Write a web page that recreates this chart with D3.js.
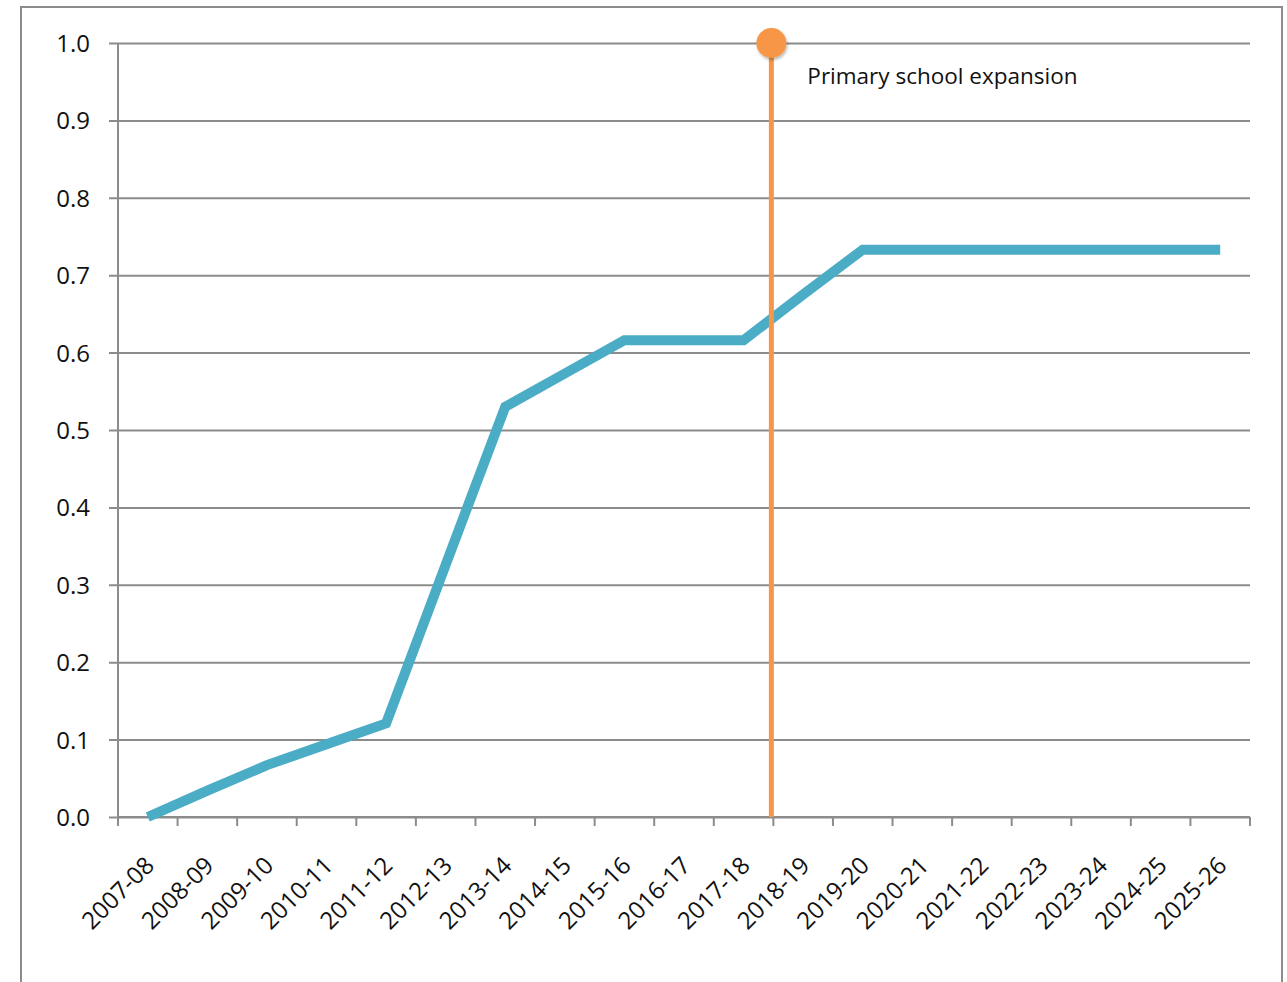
<!DOCTYPE html>
<html>
<head>
<meta charset="utf-8">
<script src="https://cdn.jsdelivr.net/npm/d3@7"></script>
<style>
  html, body { margin: 0; padding: 0; background: #fff; }
  svg { display: block; }
  text { font-family: "Open Sans", "Liberation Sans", sans-serif; fill: #111; }
</style>
</head>
<body>
<svg id="chart" width="1287" height="982"></svg>
<script>
const categories = ["2007-08","2008-09","2009-10","2010-11","2011-12","2012-13","2013-14","2014-15","2015-16","2016-17","2017-18","2018-19","2019-20","2020-21","2021-22","2022-23","2023-24","2024-25","2025-26"];
const values = [0.0, 0.034, 0.067, 0.094, 0.121, 0.326, 0.530, 0.573, 0.616, 0.616, 0.616, 0.675, 0.733, 0.733, 0.733, 0.733, 0.733, 0.733, 0.733];
const yTicks = [0, 0.1, 0.2, 0.3, 0.4, 0.5, 0.6, 0.7, 0.8, 0.9, 1.0];
const markerCategory = "2018-19";
const markerLabel = "Primary school expansion";

const svg = d3.select("#chart");
const plotLeft = 118, plotRight = 1250, plotTop = 43, plotBottom = 817;

// drop shadow for marker circle
const defs = svg.append("defs");
const f = defs.append("filter").attr("id", "shadow").attr("x", "-50%").attr("y", "-50%").attr("width", "200%").attr("height", "200%");
f.append("feDropShadow").attr("dx", 1).attr("dy", 2).attr("stdDeviation", 1.5).attr("flood-color", "#000").attr("flood-opacity", 0.3);

// outer frame
svg.append("path")
  .attr("d", `M21,990 V7 H1282 V990`)
  .attr("fill", "none").attr("stroke", "#8c8c8c").attr("stroke-width", 2);

const x = d3.scaleBand().domain(categories).range([plotLeft, plotRight]).padding(0);
const y = d3.scaleLinear().domain([0, 1]).range([plotBottom, plotTop]);

// gridlines + y ticks
const yAxis = d3.axisLeft(y).tickValues(yTicks).tickFormat(d3.format(".1f"))
  .tickSize(-(plotRight - plotLeft)).tickPadding(28);
const gy = svg.append("g").attr("transform", `translate(${plotLeft},0)`).call(yAxis);
gy.select(".domain").remove();
gy.selectAll(".tick line").attr("x1", -9).attr("stroke", "#8c8c8c").attr("stroke-width", 2);
gy.selectAll(".tick text").style("font-size", "24px").style("font-family", "'Open Sans', sans-serif")
  .attr("fill", "#111").attr("dy", "0.35em");

// y axis line
svg.append("line").attr("x1", plotLeft).attr("x2", plotLeft).attr("y1", plotTop).attr("y2", plotBottom + 9)
  .attr("stroke", "#8c8c8c").attr("stroke-width", 2);

// x axis
const gx = svg.append("g").attr("transform", `translate(0,${plotBottom})`);
gx.append("line").attr("x1", plotLeft).attr("x2", plotRight).attr("stroke", "#8c8c8c").attr("stroke-width", 2);
const bounds = categories.map(c => x(c)).concat([plotRight]);
gx.selectAll("line.tk").data(bounds).enter().append("line").attr("class", "tk")
  .attr("x1", d => d).attr("x2", d => d).attr("y1", 0).attr("y2", 9)
  .attr("stroke", "#8c8c8c").attr("stroke-width", 2);
gx.selectAll("text").data(categories).enter().append("text")
  .attr("transform", d => `translate(${x(d) + x.bandwidth() / 2 + 2},${44}) rotate(-45)`)
  .attr("text-anchor", "end").attr("dy", "0.35em")
  .style("font-size", "24px").attr("fill", "#111")
  .text(d => d);

// data line
const line = d3.line().x((d, i) => x(categories[i]) + x.bandwidth() / 2).y(d => y(d));
svg.append("path").datum(values).attr("d", line)
  .attr("fill", "none").attr("stroke", "#4BACC6").attr("stroke-width", 10)
  .attr("stroke-linejoin", "miter").attr("stroke-linecap", "butt");

// marker
const mx = x(markerCategory) - 2;
svg.append("line").attr("x1", mx).attr("x2", mx).attr("y1", y(1)).attr("y2", plotBottom)
  .attr("stroke", "#F79646").attr("stroke-width", 5);
svg.append("circle").attr("cx", mx).attr("cy", y(1)).attr("r", 15).attr("fill", "#F79646").attr("filter", "url(#shadow)");
svg.append("text").attr("x", mx + 36).attr("y", 84)
  .style("font-size", "22.5px").attr("fill", "#222").text(markerLabel);
</script>
</body>
</html>
